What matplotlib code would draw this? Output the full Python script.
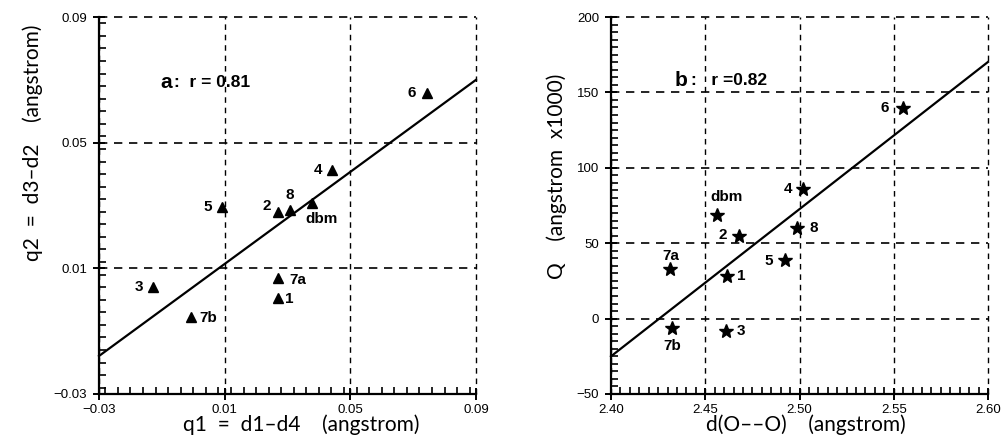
import matplotlib
matplotlib.use("Agg")
import matplotlib.pyplot as plt
from matplotlib.ticker import MultipleLocator

# ---------------- data: panel a ----------------
a_labels = ["6", "4", "5", "2", "8", "dbm", "7a", "1", "3", "7b"]
a_q1 = [0.0743, 0.0441, 0.0092, 0.0271, 0.0308, 0.0377, 0.0271, 0.0271, -0.0129, -0.0007]
a_q2 = [0.0659, 0.0413, 0.0296, 0.0278, 0.0286, 0.0309, 0.0068, 0.0007, 0.0040, -0.0056]
a_fit_x = [-0.03, 0.09]
a_fit_y = [-0.0179, 0.0700]
a_ticks = [-0.03, 0.01, 0.05, 0.09]
a_tick_labels = ["\u22120.03", "0.01", "0.05", "0.09"]
a_r = "0.81"

# ---------------- data: panel b ----------------
b_labels = ["6", "4", "8", "dbm", "2", "5", "7a", "1", "7b", "3"]
b_d = [2.5549, 2.5018, 2.4986, 2.4563, 2.4679, 2.4924, 2.4314, 2.4616, 2.4325, 2.4609]
b_Q = [139.8, 85.8, 60.0, 68.8, 54.9, 38.6, 33.1, 28.0, -6.2, -7.9]
b_fit_x = [2.40, 2.60]
b_fit_y = [-25.0, 170.2]
b_xticks = [2.40, 2.45, 2.50, 2.55, 2.60]
b_yticks = [-50, 0, 50, 100, 150, 200]
b_r = "0.82"

# label offsets in pixels (dx, dy) relative to marker
a_offsets = [(-15, 0), (-14, 0), (-14, 0), (-12, 6), (0, 15), (10, -16),
             (19, -2), (11, -1), (-14, 0), (17, -1)]
b_offsets = [(-18, 0), (-15, 0), (17, 0), (9, 18), (-16, 1), (-16, -1),
             (1, 13), (14, 0), (0, -18), (15, 0)]

W, H = 1001, 446
fig = plt.figure(figsize=(W / 100, H / 100), dpi=100)

tick_font = dict(family="Liberation Sans", size=9.5)
lab_font = dict(family="Lato", size=15)
pt_font = dict(family="Liberation Sans", size=11, weight="bold")


def px_axes(l, r, t, b):
    return fig.add_axes([l / W, (H - b) / H, (r - l) / W, (b - t) / H])


def style(ax, xt, yt, xminor, yminor):
    for s in ("top", "right"):
        ax.spines[s].set_visible(False)
    for s in ("left", "bottom"):
        ax.spines[s].set_linewidth(1.6)
        ax.spines[s].set_zorder(5)
    for v in xt:
        ax.axvline(v, color="black", lw=1.0, ls=(0, (4, 3.5)), clip_on=False, zorder=1)
    for v in yt:
        ax.axhline(v, color="black", lw=1.2, ls=(0, (5, 4)), clip_on=False, zorder=1)
    ax.xaxis.set_minor_locator(MultipleLocator(xminor))
    ax.yaxis.set_minor_locator(MultipleLocator(yminor))
    ax.tick_params(which="major", direction="inout", length=9, width=1.4, pad=3)
    ax.tick_params(which="minor", direction="in", length=5, width=1.2)
    ax.tick_params(axis="y", pad=4)


# ---------------- panel a ----------------
ax1 = px_axes(99, 476, 17, 394)
ax1.set_xlim(a_ticks[0], a_ticks[-1])
ax1.set_ylim(a_ticks[0], a_ticks[-1])
style(ax1, a_ticks, a_ticks, 0.004, 0.004)
ax1.set_xticks(a_ticks)
ax1.set_xticklabels(a_tick_labels, **tick_font)
ax1.set_yticks(a_ticks)
ax1.set_yticklabels(a_tick_labels, **tick_font)
ax1.plot(a_fit_x, a_fit_y, color="black", lw=1.6, zorder=3, clip_on=False)
ax1.plot(a_q1, a_q2, ls="none", marker="^", ms=7, color="black", zorder=4)
for lab, x, y, (dx, dy) in zip(a_labels, a_q1, a_q2, a_offsets):
    ax1.annotate(lab, (x, y), xytext=(dx, dy), textcoords="offset pixels",
                 ha="center", va="center", **pt_font)
ax1.text(-0.0085, 0.0693, "a", ha="center", va="center", family="Liberation Sans",
         size=15, weight="bold")
ax1.text(-0.0060, 0.0693, ":  r = " + a_r, ha="left", va="center",
         family="Liberation Sans", size=12.5, weight="bold")
ax1.set_xlabel("q1  =  d1\u2013d4    (angstrom)", **lab_font)
ax1.xaxis.set_label_coords(0.536, -0.082)
ax1.xaxis.label.set_va("center")
ax1.set_ylabel("q2  =  d3\u2013d2    (angstrom)", **lab_font)
ax1.yaxis.set_label_coords(-0.175, 0.666)
ax1.yaxis.label.set_va("center")

# ---------------- panel b ----------------
ax2 = px_axes(611, 988, 17, 394)
ax2.set_xlim(b_xticks[0], b_xticks[-1])
ax2.set_ylim(b_yticks[0], b_yticks[-1])
style(ax2, b_xticks, b_yticks, 0.005, 5)
ax2.set_xticks(b_xticks)
ax2.set_xticklabels([f"{v:.2f}" for v in b_xticks], **tick_font)
ax2.set_yticks(b_yticks)
ax2.set_yticklabels([str(v).replace("-", "\u2212") for v in b_yticks], **tick_font)
ax2.plot(b_fit_x, b_fit_y, color="black", lw=1.6, zorder=3, clip_on=False)
ax2.plot(b_d, b_Q, ls="none", marker="*", ms=10.5, color="black", zorder=4)
for lab, x, y, (dx, dy) in zip(b_labels, b_d, b_Q, b_offsets):
    ax2.annotate(lab, (x, y), xytext=(dx, dy), textcoords="offset pixels",
                 ha="center", va="center", **pt_font)
ax2.text(2.4373, 158, "b", ha="center", va="center", family="Liberation Sans",
         size=15, weight="bold")
ax2.text(2.4425, 158, ":   r =0." + b_r[2:], ha="left", va="center",
         family="Liberation Sans", size=12.5, weight="bold")
ax2.set_xlabel("d(O\u2013\u2013O)    (angstrom)", **lab_font)
ax2.xaxis.set_label_coords(0.517, -0.082)
ax2.xaxis.label.set_va("center")
ax2.set_ylabel("Q    (angstrom  x1000)", **lab_font)
ax2.yaxis.set_label_coords(-0.143, 0.578)
ax2.yaxis.label.set_va("center")

fig.savefig("out.png", dpi=100)
